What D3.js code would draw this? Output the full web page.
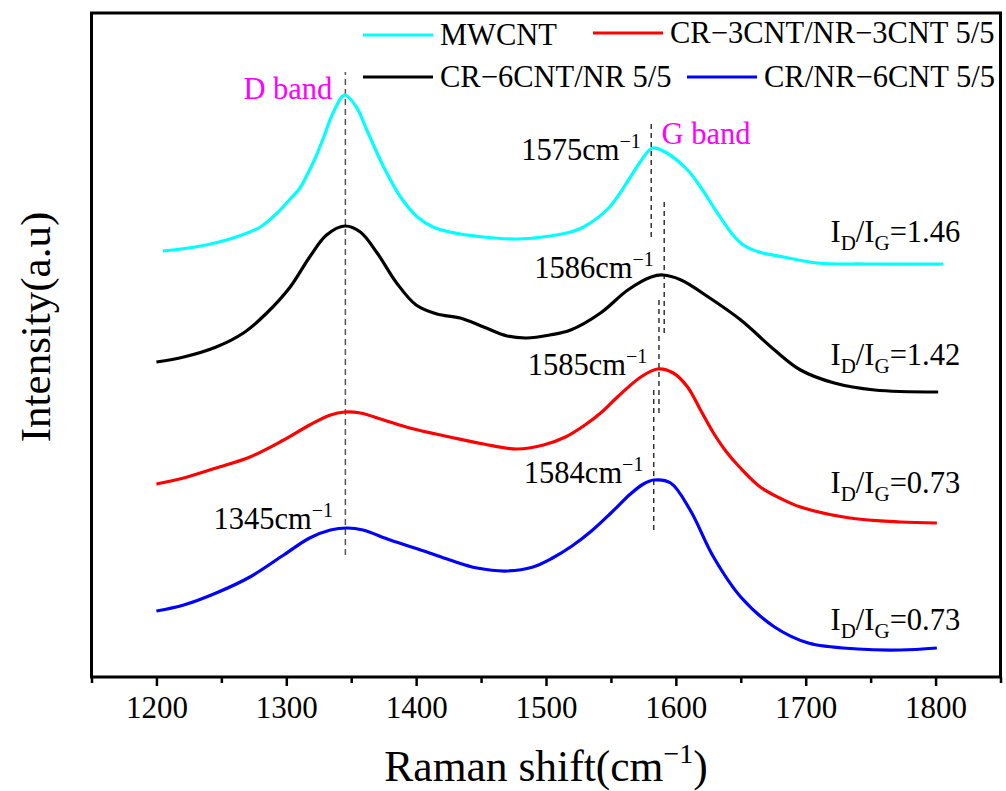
<!DOCTYPE html>
<html>
<head>
<meta charset="utf-8">
<script src="https://cdn.jsdelivr.net/npm/d3@7"></script>
<style>
  body { margin: 0; background: #fff; }
  text { font-family: "Liberation Serif", "Times New Roman", serif; }
</style>
</head>
<body>
<svg id="chart"></svg>
<script>
// raman shift samples (cm-1) and intensities (a.u., offset stacked)
var mwcntX = [1205,1234,1259,1280,1293,1303,1310,1316,1322,1328,1336,1345,1354,1362,1375,1388,1401,1413,1426,1452,1478,1503,1519,1529,1549,1565,1572,1582,1593,1609,1619,1632,1644,1652,1664,1683,1709,1747,1806];
var mwcntY = [426,431,439,450,464,478,488,502,518,537,564,582,570,547,510,480,460,450,445,440,438,441,445,450,470,500,514,529,524,507,490,464,442,432,425,420,414,413,413];

var cr6X = [1200,1221,1246,1267,1285,1303,1318,1331,1345,1357,1370,1385,1400,1416,1434,1452,1470,1485,1503,1519,1542,1563,1581,1590,1604,1625,1650,1676,1696,1722,1753,1802];
var cr6Y = [315,320,330,344,364,390,420,442,451,445,424,394,372,363,359,350,341,339,342,347,364,387,400,402,397,380,357,327,307,294,287,285];

var cr3X = [1200,1221,1246,1272,1298,1318,1334,1345,1357,1375,1395,1426,1452,1478,1498,1515,1530,1543,1555,1573,1586,1598,1609,1619,1629,1639,1649,1665,1680,1696,1734,1773,1801];
var cr3Y = [193,199,209,220,237,252,262,265,264,257,249,240,233,228,232,240,252,265,280,300,308,304,290,267,244,225,210,190,179,170,159,155,154];

var nr6X = [1200,1221,1246,1272,1298,1318,1334,1347,1359,1380,1406,1426,1447,1470,1490,1505,1520,1535,1550,1565,1575,1583,1596,1611,1629,1650,1676,1702,1740,1773,1801];
var nr6Y = [66,72,84,100,122,139,147,149,147,137,126,117,109,106,110,119,131,146,164,183,193,197,194,167,120,80,50,34,28,27,29];

var seriesNames = ["MWCNT", "CR\u22123CNT/NR\u22123CNT 5/5", "CR\u22126CNT/NR 5/5", "CR/NR\u22126CNT 5/5"];
var xTicks = [1200, 1300, 1400, 1500, 1600, 1700, 1800];

// peak marker lines: [shift, from, to]
var dBand = [1345.5, 122, 605];
var gLines = [[1581, 440, 555], [1591, 344, 477], [1587, 264, 380], [1583, 147, 287]];

var peakLabels = [["1575", 1573, 517], ["1586", 1583, 399], ["1585", 1578, 302], ["1584", 1575, 194], ["1345", 1336, 148]];
var ratioLabels = [["1.46", 435], ["1.42", 312], ["0.73", 184], ["0.73", 47]];

var width = 1006, height = 791;
var svg = d3.select("#chart").attr("width", width).attr("height", height);

var x = d3.scaleLinear().domain([1150, 1850]).range([91.5, 1000.5]);
var y = d3.scaleLinear().domain([0, 664]).range([677, 13]);

var series = [
  {name: seriesNames[0], xs: mwcntX, ys: mwcntY, color: "#00ffff"},
  {name: seriesNames[1], xs: cr3X, ys: cr3Y, color: "#ff0000"},
  {name: seriesNames[2], xs: cr6X, ys: cr6Y, color: "#000000"},
  {name: seriesNames[3], xs: nr6X, ys: nr6Y, color: "#0000ff"}
];

// dashed guide lines
svg.append("line")
  .attr("x1", x(dBand[0])).attr("x2", x(dBand[0]))
  .attr("y1", y(dBand[1])).attr("y2", y(dBand[2]))
  .attr("stroke", "#555").attr("stroke-width", 1.5)
  .attr("stroke-dasharray", "6,4");

svg.selectAll(".gline")
  .data(gLines)
  .enter()
  .append("line")
  .attr("x1", function(d) { return x(d[0]); })
  .attr("x2", function(d) { return x(d[0]); })
  .attr("y1", function(d) { return y(d[1]); })
  .attr("y2", function(d) { return y(d[2]); })
  .attr("stroke", "#000").attr("stroke-width", 1.2)
  .attr("stroke-dasharray", "5,4");

var line = d3.line()
  .x(function(d) { return x(d[0]); })
  .y(function(d) { return y(d[1]); })
  .curve(d3.curveCatmullRom.alpha(0.5));

svg.selectAll(".spec")
  .data(series)
  .enter()
  .append("path")
  .attr("fill", "none")
  .attr("stroke", function(d) { return d.color; })
  .attr("stroke-width", 3.2)
  .attr("stroke-linejoin", "round")
  .attr("d", function(d) {
    return line(d.xs.map(function(v, i) { return [v, d.ys[i]]; }));
  });

// frame
svg.append("rect")
  .attr("x", 91.5).attr("y", 13)
  .attr("width", 909).attr("height", 664)
  .attr("fill", "none").attr("stroke", "#000").attr("stroke-width", 3);

// bottom axis
var minor = svg.append("g").attr("transform", "translate(0,677)")
  .call(d3.axisBottom(x).tickValues(d3.range(1150, 1851, 100)).tickSize(6).tickFormat(""));
var major = svg.append("g").attr("transform", "translate(0,677)")
  .call(d3.axisBottom(x).tickValues(xTicks).tickSize(9).tickPadding(10).tickFormat(d3.format("d")));
[minor, major].forEach(function(g) {
  g.select(".domain").remove();
  g.selectAll("line").attr("stroke-width", 2.5);
});
major.selectAll("text")
  .attr("font-family", "Liberation Serif, serif")
  .attr("font-size", 31).attr("fill", "#000");

// axis titles
var xt = svg.append("text")
  .attr("x", 546).attr("y", 781)
  .attr("text-anchor", "middle")
  .attr("font-size", 43.5);
xt.append("tspan").text("Raman shift(cm");
xt.append("tspan").attr("font-size", 28).attr("dy", -18).text("\u22121");
xt.append("tspan").attr("dy", 18).text(")");

svg.append("text")
  .attr("transform", "translate(50,327) rotate(-90)")
  .attr("text-anchor", "middle")
  .attr("font-size", 43)
  .text("Intensity(a.u)");

// band labels
svg.append("text")
  .attr("x", x(1335.5)).attr("y", y(578))
  .attr("text-anchor", "end")
  .attr("font-size", 30.5).attr("fill", "#ff00ff")
  .text("D band");
svg.append("text")
  .attr("x", x(1589)).attr("y", y(533))
  .attr("font-size", 30.5).attr("fill", "#ff00ff")
  .text("G band");

// peak position labels
peakLabels.forEach(function(p) {
  var t = svg.append("text")
    .attr("x", x(p[1])).attr("y", y(p[2]))
    .attr("text-anchor", "end")
    .attr("font-size", 30.5);
  t.append("tspan").text(p[0] + "cm");
  t.append("tspan").attr("font-size", 20).attr("dy", -12).text("\u22121");
});

// I_D/I_G ratios
ratioLabels.forEach(function(r) {
  var t = svg.append("text")
    .attr("x", x(1819)).attr("y", y(r[1]))
    .attr("text-anchor", "end")
    .attr("font-size", 30.5);
  t.append("tspan").text("I");
  t.append("tspan").attr("font-size", 21).attr("dy", 8).text("D");
  t.append("tspan").attr("dy", -8).text("/I");
  t.append("tspan").attr("font-size", 21).attr("dy", 8).text("G");
  t.append("tspan").attr("dy", -8).text("=" + r[0]);
});

// legend
var legendPos = [[363, 35], [593, 33], [363, 77], [687, 77]];
var leg = svg.selectAll(".leg")
  .data(series)
  .enter()
  .append("g")
  .attr("transform", function(d, i) { return "translate(" + legendPos[i] + ")"; });
leg.append("line")
  .attr("x1", 0).attr("x2", 70)
  .attr("stroke", function(d) { return d.color; })
  .attr("stroke-width", 3.2);
leg.append("text")
  .attr("x", 77).attr("y", 10)
  .attr("font-size", 30.5)
  .text(function(d) { return d.name; });
</script>
</body>
</html>
